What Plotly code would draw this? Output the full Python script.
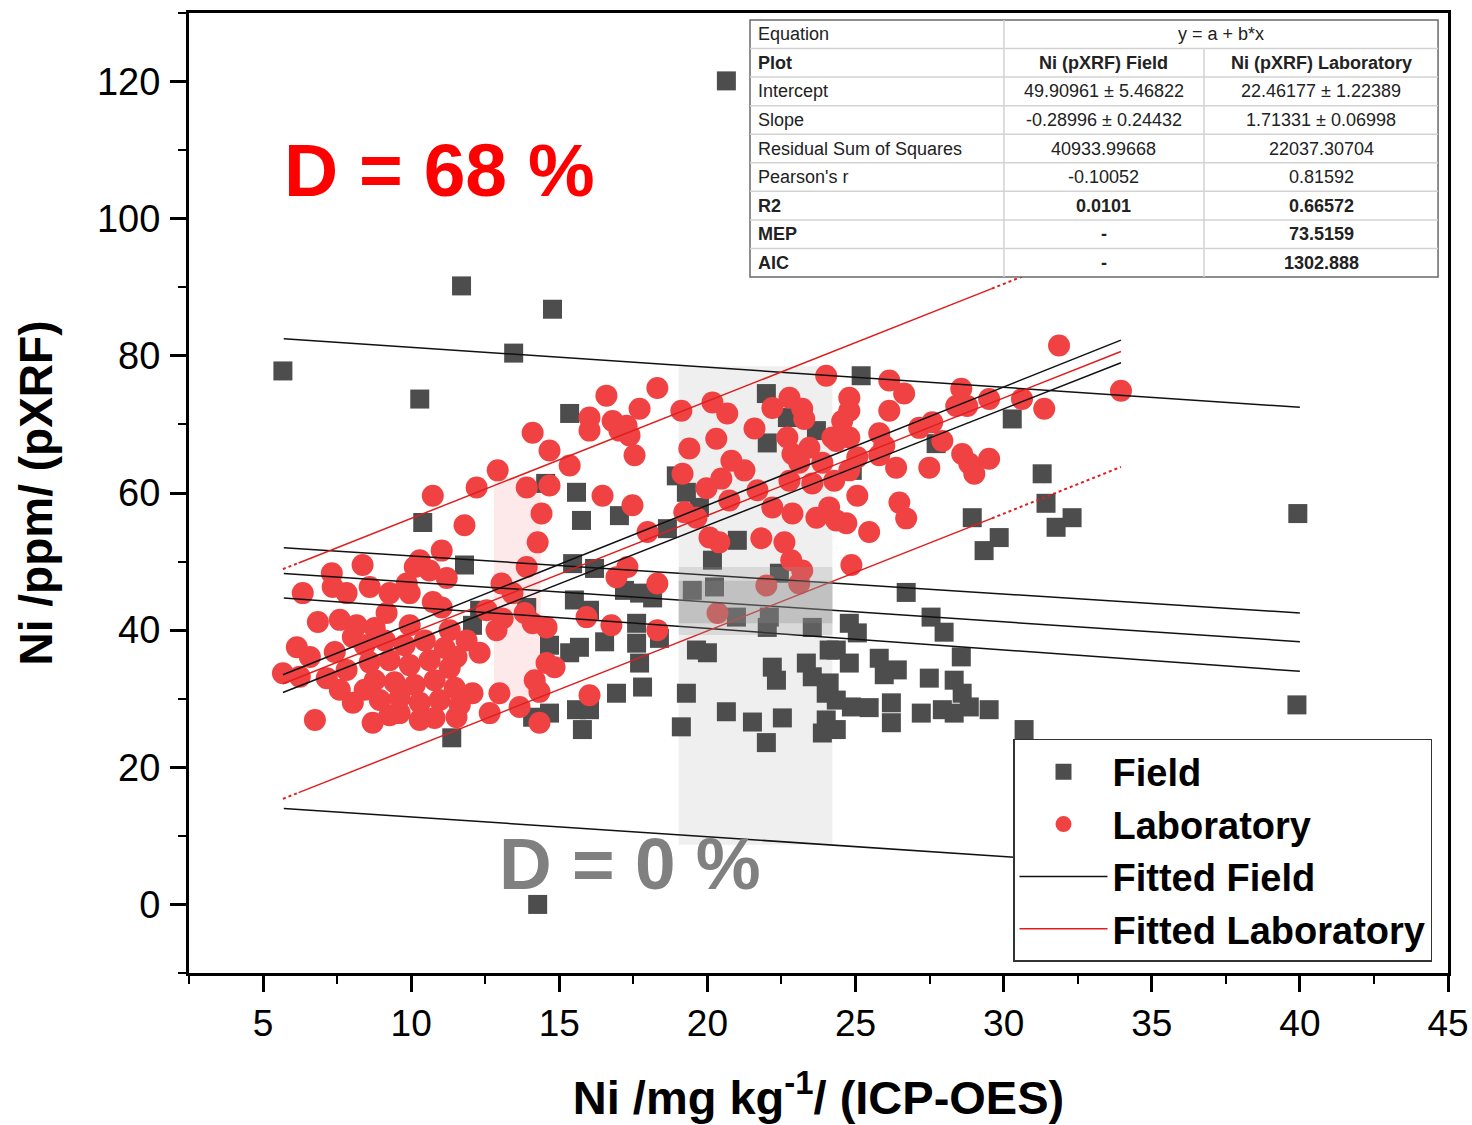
import plotly.graph_objects as go

# ---------------- data ----------------
field_x = [5.67, 10.29, 11.70, 13.46, 14.77, 20.64, 25.19, 39.93, 39.90, 14.27,
           15.35, 10.39, 11.80, 11.37, 12.07, 13.90, 14.54, 14.67, 14.10, 15.58,
           15.75, 17.03, 18.65, 18.95, 19.29, 19.73, 15.45, 16.19, 15.51, 16.02,
           17.20, 17.71, 18.15, 15.68, 16.53, 17.61, 17.61, 17.71, 18.38, 14.67,
           15.58, 16.02, 15.78, 16.93, 17.81, 19.63, 20.00, 19.49, 20.24, 20.98,
           22.09, 22.02, 23.54, 20.17, 21.01, 21.99, 22.70, 22.02, 23.68, 19.29,
           19.12, 20.64, 21.52, 21.99, 22.53, 22.19, 22.33, 23.34, 23.54, 24.11,
           24.01, 24.01, 23.88, 22.43, 30.29, 31.30, 28.94, 31.43, 31.77, 32.31,
           29.85, 29.34, 27.72, 24.89, 26.71, 27.55, 27.99, 28.57, 24.79, 25.06,
           24.35, 24.79, 25.80, 26.41, 25.97, 27.49, 28.33, 28.60, 28.84, 29.51,
           28.33, 27.93, 27.22, 26.21, 26.21, 25.46, 24.86, 24.35, 24.11, 24.35,
           30.69, 12.31, 15.35]
field_y = [77.8, 73.7, 90.2, 80.4, 86.8, 120.1, 77.1, 57.0, 29.1, 0.0,
           71.6, 55.7, 49.5, 24.3, 40.7, 43.3, 61.4, 37.8, 27.3, 60.1,
           56.0, 56.7, 54.8, 62.5, 60.1, 57.9, 49.7, 49.0, 44.4, 42.9,
           45.8, 45.4, 44.7, 37.5, 38.3, 41.0, 38.1, 35.2, 38.8, 27.9,
           28.4, 28.4, 25.5, 30.8, 31.7, 37.1, 36.7, 45.8, 46.3, 41.9,
           41.9, 40.4, 40.4, 50.2, 53.1, 74.5, 71.0, 67.3, 69.1, 30.8,
           25.9, 28.1, 26.6, 23.6, 27.2, 34.6, 32.7, 35.2, 33.2, 37.1,
           30.8, 26.9, 25.0, 48.3, 70.8, 62.8, 56.4, 58.5, 55.0, 56.4,
           53.5, 51.6, 67.2, 63.3, 45.5, 41.9, 39.7, 36.1, 41.0, 39.6,
           37.1, 35.2, 35.9, 34.2, 33.5, 33.0, 32.7, 30.8, 28.8, 28.4,
           27.9, 28.4, 27.9, 29.4, 26.5, 28.7, 28.8, 29.8, 32.3, 25.5,
           25.5, 42.9, 36.7]

lab_x = [14.10, 14.67, 12.92, 12.21, 10.73, 11.80, 13.90, 14.40, 14.27, 13.90,
         11.03, 10.29, 10.12, 11.20, 10.62, 8.36, 7.32, 6.34, 7.35, 7.82,
         8.60, 9.27, 9.85, 9.95, 10.73, 11.03, 9.17, 6.85, 7.59, 8.16,
         8.03, 13.05, 13.42, 13.83, 12.55, 13.09, 14.10, 12.88, 6.14, 6.58,
         7.42, 5.67, 6.24, 7.15, 7.82, 7.59, 8.03, 6.75, 8.70, 9.61,
         10.29, 11.53, 12.07, 12.98, 12.65, 13.66, 14.33, 14.57, 14.17, 12.31,
         11.87, 11.53, 14.67, 15.35, 14.84,
         8.43, 9.11, 9.78, 10.46, 11.13, 8.60, 9.27, 9.95, 10.62, 11.30,
         8.77, 9.44, 10.12, 10.79, 11.47, 8.94, 9.61, 10.29, 10.96, 11.64,
         9.27, 10.79, 8.43, 11.30, 9.95, 8.77,
         16.59, 18.31, 16.02, 16.02, 16.80, 17.27, 17.71, 17.37, 17.03, 17.54,
         16.46, 17.47, 17.98, 19.12, 20.17, 20.67, 19.39, 20.30, 20.81, 21.59,
         19.16, 19.97, 20.47, 20.74, 19.22, 19.63, 20.07, 20.40, 21.69, 21.82,
         22.60, 22.19, 22.77, 22.19, 23.20, 22.70, 23.27, 22.87, 23.44, 24.22,
         24.01, 22.77, 23.54, 24.11, 22.87, 23.68, 22.83, 23.20, 21.99, 23.10,
         17.30, 16.93, 18.31, 15.92, 16.76, 18.31, 14.33, 16.02, 20.34, 14.57,
         23.10, 23.88, 21.25,
         31.87, 33.96, 24.79, 24.79, 24.55, 24.79, 24.35, 26.14, 26.64, 26.14,
         25.80, 25.97, 26.37, 25.80, 25.06, 24.79, 27.15, 27.59, 27.93, 27.49,
         28.40, 28.57, 28.77, 29.51, 30.62, 31.37, 28.60, 28.84, 29.01, 29.51,
         24.28, 25.06, 26.48, 26.71, 24.35, 24.69, 25.46, 24.86]
lab_y = [68.8, 66.2, 63.3, 60.8, 59.6, 55.3, 60.8, 57.0, 52.8, 49.2,
         51.6, 50.2, 49.2, 47.6, 48.7, 49.5, 48.3, 45.4, 46.3, 45.4,
         46.3, 45.4, 46.8, 45.4, 44.1, 43.3, 42.5, 41.2, 41.5, 40.7,
         39.0, 46.8, 45.4, 42.5, 42.9, 41.7, 41.0, 40.0, 37.5, 36.1,
         36.8, 33.7, 33.2, 33.0, 34.2, 31.3, 29.4, 26.9, 26.5, 27.9,
         26.9, 27.3, 30.8, 30.8, 27.9, 28.8, 26.5, 35.2, 32.7, 36.7,
         38.5, 36.1, 61.1, 64.0, 34.6,
         37.8, 38.5, 37.8, 38.5, 37.4, 35.3, 35.6, 34.9, 35.6, 34.5,
         32.7, 32.4, 32.0, 32.7, 31.6, 29.8, 30.1, 29.4, 29.8, 29.1,
         27.6, 27.2, 31.3, 40.0, 40.7, 40.3,
         74.2, 75.3, 71.0, 69.1, 70.5, 69.8, 72.3, 68.4, 69.1, 65.5,
         59.6, 58.2, 54.3, 72.0, 73.2, 71.6, 66.5, 67.9, 64.7, 69.4,
         62.8, 60.7, 62.1, 58.9, 57.2, 56.4, 53.5, 52.8, 60.4, 53.4,
         52.8, 57.9, 73.9, 72.4, 72.3, 68.1, 70.8, 65.7, 66.6, 68.1,
         77.1, 61.8, 61.4, 57.9, 57.0, 56.4, 50.2, 48.7, 46.5, 46.8,
         49.2, 47.7, 46.8, 41.9, 40.7, 40.0, 31.0, 30.5, 42.5, 40.4,
         64.4, 64.4, 63.3,
         81.5, 74.9, 73.9, 72.0, 70.5, 68.1, 67.6, 76.4, 74.5, 72.0,
         68.7, 66.9, 63.7, 65.5, 65.2, 63.3, 69.5, 70.3, 67.6, 63.7,
         72.7, 75.2, 72.7, 73.7, 73.7, 72.3, 65.7, 64.3, 62.8, 65.0,
         61.8, 59.6, 58.6, 56.3, 56.0, 55.6, 54.3, 49.5]

# regression coefficients (from the table)
field_intercept, field_slope = 49.90961, -0.28996
lab_intercept, lab_slope = 22.46177, 1.71331

# band lines
field_band_x = [5.7, 40.0]
field_conf_upper = [52.0, 42.5]
field_conf_lower = [44.7, 34.0]
field_pred_upper = [82.5, 72.5]
field_pred_lower = [14.0, 4.1]

lab_band_x = [5.67, 33.96]
lab_conf_upper = [33.5, 82.3]
lab_conf_lower = [30.9, 79.0]
lab_pred_x = [5.67, 6.2, 29.6, 33.96]
lab_pred_upper = [48.9, 49.8, 89.8, 97.3]
lab_pred_lower = [15.4, 16.3, 56.3, 63.8]

# shaded regions
gray_x = [19.03, 24.22]
gray_y = [8.7, 78.5]
band_outer_y = [39.3, 49.2]
band_inner_y = [41.0, 47.2]
pink_x = [12.79, 14.37]
pink_y = [30.3, 62.3]

# table
table_rows = ["Equation", "Plot", "Intercept", "Slope", "Residual Sum of Squares",
              "Pearson's r", "R2", "MEP", "AIC"]
table_field = ["", "Ni (pXRF) Field", "49.90961 ± 5.46822", "-0.28996 ± 0.24432",
               "40933.99668", "-0.10052", "0.0101", "-", "-"]
table_lab = ["", "Ni (pXRF) Laboratory", "22.46177 ± 1.22389", "1.71331 ± 0.06998",
             "22037.30704", "0.81592", "0.66572", "73.5159", "1302.888"]
table_bold = [False, True, False, False, False, False, True, True, True]
equation_text = "y = a + b*x"

x_ticks = [5, 10, 15, 20, 25, 30, 35, 40, 45]
y_ticks = [0, 20, 40, 60, 80, 100, 120]

FONT = "Liberation Sans, Arial, sans-serif"
RED = "#f04242"
GRAY = "#4d4d4d"

fig = go.Figure()

fig.add_trace(go.Scatter(x=field_x, y=field_y, mode="markers", name="Field",
                         marker=dict(symbol="square", size=19, color=GRAY,
                                     line=dict(width=0))))
fig.add_trace(go.Scatter(x=lab_x, y=lab_y, mode="markers", name="Laboratory",
                         marker=dict(symbol="circle", size=22, color=RED,
                                     line=dict(width=0))))

# Field fitted line + bands
fx = field_band_x
fig.add_trace(go.Scatter(x=fx, y=[field_intercept + field_slope * v for v in fx],
                         mode="lines", name="Fitted Field",
                         line=dict(color="#111111", width=1.5)))
for ys in (field_conf_upper, field_conf_lower, field_pred_upper, field_pred_lower):
    fig.add_trace(go.Scatter(x=fx, y=ys, mode="lines", showlegend=False,
                             line=dict(color="#111111", width=1.5), hoverinfo="skip"))

# Laboratory fitted line + bands
lx = lab_band_x
fig.add_trace(go.Scatter(x=lx, y=[lab_intercept + lab_slope * v for v in lx],
                         mode="lines", name="Fitted Laboratory",
                         line=dict(color="#dd1f1f", width=1.5)))
for ys in (lab_conf_upper, lab_conf_lower):
    fig.add_trace(go.Scatter(x=lx, y=ys, mode="lines", showlegend=False,
                             line=dict(color="#111111", width=1.5), hoverinfo="skip"))
for ys in (lab_pred_upper, lab_pred_lower):
    fig.add_trace(go.Scatter(x=lab_pred_x[1:3], y=ys[1:3], mode="lines", showlegend=False,
                             line=dict(color="#dd1f1f", width=1.5), hoverinfo="skip"))
    for seg in ((0, 2), (2, 4)):
        fig.add_trace(go.Scatter(x=lab_pred_x[seg[0]:seg[1]], y=ys[seg[0]:seg[1]],
                                 mode="lines", showlegend=False,
                                 line=dict(color="#dd1f1f", width=2, dash="dot"),
                                 hoverinfo="skip"))

shapes = []
shapes.append(dict(type="rect", xref="x", yref="y", x0=gray_x[0], x1=gray_x[1],
                   y0=gray_y[0], y1=gray_y[1], fillcolor="#efefef", line=dict(width=0),
                   layer="below"))
shapes.append(dict(type="rect", xref="x", yref="y", x0=pink_x[0], x1=pink_x[1],
                   y0=pink_y[0], y1=pink_y[1], fillcolor="#fde9e9", line=dict(width=0),
                   layer="below"))
shapes.append(dict(type="rect", xref="x", yref="y", x0=gray_x[0], x1=gray_x[1],
                   y0=band_outer_y[0], y1=band_outer_y[1],
                   fillcolor="rgba(150,150,150,0.25)", line=dict(width=0), layer="above"))
shapes.append(dict(type="rect", xref="x", yref="y", x0=gray_x[0], x1=gray_x[1],
                   y0=band_inner_y[0], y1=band_inner_y[1],
                   fillcolor="rgba(140,140,140,0.3)", line=dict(width=0), layer="above"))

# ---- table (paper coordinates) ----
tx0, tx1, tx2, tx3 = 0.4456, 0.6473, 0.8062, 0.9921
ty_top, ty_bot = 0.9927, 0.7250
nrows = len(table_rows)
rh = (ty_top - ty_bot) / nrows
shapes.append(dict(type="rect", xref="paper", yref="paper", x0=tx0, x1=tx3,
                   y0=ty_bot, y1=ty_top, fillcolor="white",
                   line=dict(color="#6a6a6a", width=1.5), layer="above"))
for i in range(1, nrows):
    yy = ty_top - i * rh
    shapes.append(dict(type="line", xref="paper", yref="paper", x0=tx0, x1=tx3,
                       y0=yy, y1=yy, line=dict(color="#d2d2d2", width=1.5), layer="above"))
shapes.append(dict(type="line", xref="paper", yref="paper", x0=tx1, x1=tx1,
                   y0=ty_bot, y1=ty_top, line=dict(color="#d2d2d2", width=1.5), layer="above"))
shapes.append(dict(type="line", xref="paper", yref="paper", x0=tx2, x1=tx2,
                   y0=ty_bot, y1=ty_top - rh, line=dict(color="#d2d2d2", width=1.5),
                   layer="above"))

annotations = []
for i, lab in enumerate(table_rows):
    yc = ty_top - (i + 0.5) * rh
    w = "bold" if table_bold[i] else "normal"
    annotations.append(dict(xref="paper", yref="paper", x=tx0 + 0.005, y=yc,
                            text=lab, showarrow=False, xanchor="left", yanchor="middle",
                            font=dict(family=FONT, size=18, color="#222", weight=w)))
    if i == 0:
        annotations.append(dict(xref="paper", yref="paper", x=(tx1 + tx3) / 2, y=yc,
                                text=equation_text, showarrow=False, xanchor="center",
                                yanchor="middle",
                                font=dict(family=FONT, size=18, color="#222")))
        continue
    annotations.append(dict(xref="paper", yref="paper", x=(tx1 + tx2) / 2, y=yc,
                            text=table_field[i], showarrow=False, xanchor="center",
                            yanchor="middle",
                            font=dict(family=FONT, size=18, color="#222", weight=w)))
    annotations.append(dict(xref="paper", yref="paper", x=(tx2 + tx3) / 2, y=yc,
                            text=table_lab[i], showarrow=False, xanchor="center",
                            yanchor="middle",
                            font=dict(family=FONT, size=18, color="#222", weight=w)))

annotations.append(dict(x=10.97, y=107.05, xref="x", yref="y", text="D = 68 %",
                        showarrow=False, xanchor="center", yanchor="middle",
                        font=dict(family=FONT, size=75, color="#ff0000", weight="bold")))
annotations.append(dict(x=17.40, y=6.0, xref="x", yref="y", text="D = 0 %",
                        showarrow=False, xanchor="center", yanchor="middle",
                        font=dict(family=FONT, size=73, color="#808080", weight="bold")))

fig.update_layout(
    width=1472, height=1125,
    margin=dict(l=189, r=24, t=13, b=152, autoexpand=False),
    paper_bgcolor="white", plot_bgcolor="white",
    shapes=shapes, annotations=annotations,
    showlegend=True,
    legend=dict(x=0.9873, y=0.0115, xanchor="right", yanchor="bottom",
                bgcolor="white", bordercolor="#333333", borderwidth=1.5,
                font=dict(family=FONT, size=38, color="black", weight="bold"),
                itemwidth=88, tracegroupgap=0),
    font=dict(family=FONT, color="black"),
)

fig.update_xaxes(range=[2.5, 45], tickmode="array", tickvals=x_ticks,
                 ticks="outside", ticklen=16, tickwidth=2.5, tickcolor="black",
                 showline=True, linewidth=3, linecolor="black", mirror=True,
                 showgrid=False, zeroline=False, automargin=False,
                 tickfont=dict(family=FONT, size=37, color="black"),
                 ticklabelstandoff=0,
                 minor=dict(dtick=2.5, tick0=2.5, ticks="outside", ticklen=8,
                            tickwidth=2, tickcolor="black", showgrid=False),
                 title=dict(text="Ni /mg kg<sup>-1</sup>/ (ICP-OES)", standoff=38,
                            font=dict(family=FONT, size=47, color="black", weight="bold")))
fig.update_yaxes(range=[-10, 130], tickmode="array", tickvals=y_ticks,
                 ticks="outside", ticklen=16, tickwidth=2.5, tickcolor="black",
                 showline=True, linewidth=3, linecolor="black", mirror=True,
                 showgrid=False, zeroline=False, automargin=False,
                 tickfont=dict(family=FONT, size=38, color="black"),
                 ticklabelstandoff=2,
                 minor=dict(dtick=10, tick0=-10, ticks="outside", ticklen=8,
                            tickwidth=2, tickcolor="black", showgrid=False),
                 title=dict(text="Ni /ppm/ (pXRF)", standoff=30,
                            font=dict(family=FONT, size=46, color="black", weight="bold")))

fig.write_html("out.html")
